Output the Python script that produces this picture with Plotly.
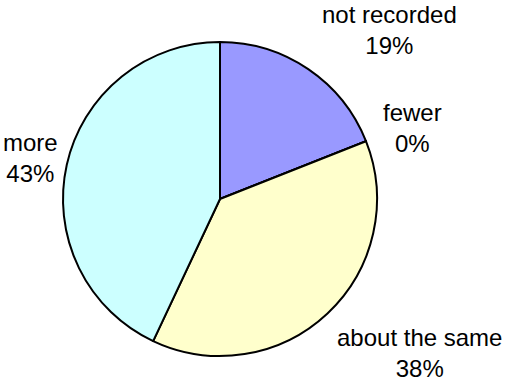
import plotly.graph_objects as go

categories = ["not recorded", "fewer", "about the same", "more"]
values = [19, 0, 38, 43]
colors = ["#9999FF", "#9999FF", "#FFFFCC", "#CCFFFF"]

# label block centres (pixels in the 510x383 page)
label_px = [(389, 30), (412, 128), (419.5, 353), (30, 158)]

W, H = 510, 383
cx, cy, r = 220, 199, 157

fig = go.Figure(go.Pie(
    labels=categories,
    values=values,
    sort=False,
    direction="clockwise",
    rotation=0,
    textinfo="none",
    hoverinfo="label+percent",
    marker=dict(colors=colors, line=dict(color="#000000", width=2)),
    domain=dict(x=[(cx - r) / W, (cx + r) / W], y=[1 - (cy + r) / H, 1 - (cy - r) / H]),
    showlegend=False,
))

total = sum(values)
for cat, v, (px, py) in zip(categories, values, label_px):
    fig.add_annotation(
        x=px / W, y=1 - py / H, xref="paper", yref="paper",
        text=f"{cat}<br>{round(100 * v / total)}%",
        showarrow=False, xanchor="center", yanchor="middle", align="center",
        font=dict(family="Liberation Sans, Arial, sans-serif", size=24, color="#000000"),
    )

fig.update_layout(
    width=W, height=H,
    margin=dict(l=0, r=0, t=0, b=0),
    paper_bgcolor="#FFFFFF",
    plot_bgcolor="#FFFFFF",
)

fig.write_html("out.html")
